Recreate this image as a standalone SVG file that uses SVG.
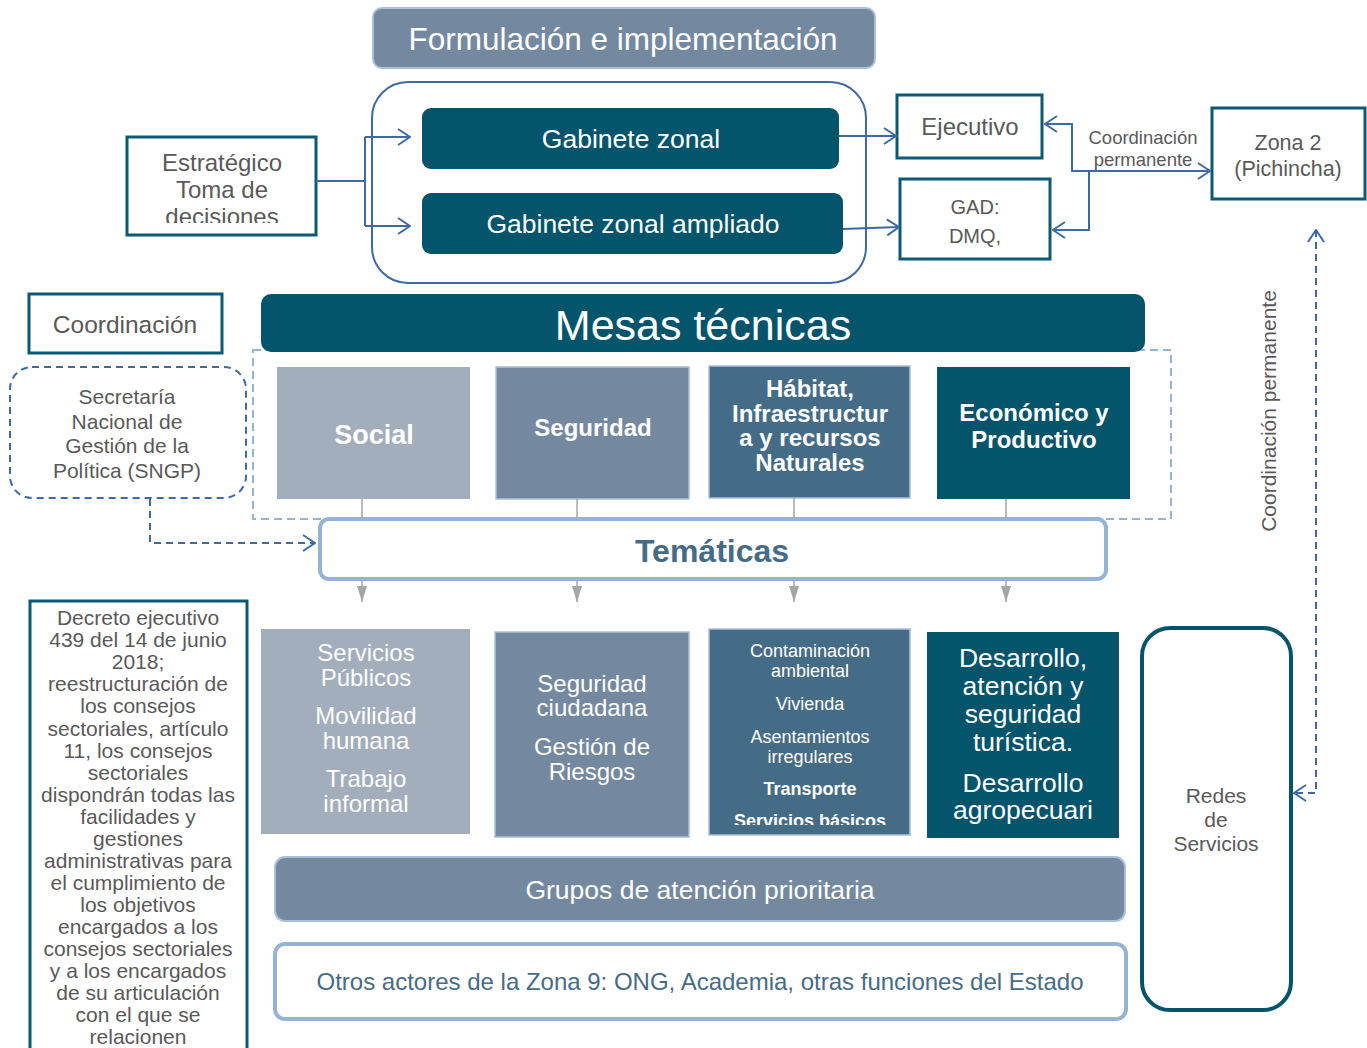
<svg xmlns="http://www.w3.org/2000/svg" width="1367" height="1048" viewBox="0 0 1367 1048">
<style>
text{font-family:"Liberation Sans",Arial,sans-serif;text-anchor:middle}
.g{fill:#595959}
.w{fill:#ffffff}
.n{font-family:"Liberation Sans Narrow","Liberation Sans",Arial,sans-serif;font-weight:bold}
.tealbox{fill:#ffffff;stroke:#0b5a74;stroke-width:3}
.conn{fill:none;stroke:#3e6aa4;stroke-width:2}
.dash{fill:none;stroke:#3e6aa4;stroke-width:2;stroke-dasharray:7,5}
.grey{stroke:#a6a6a6;stroke-width:1.5;fill:none}
</style>
<defs>
<marker id="chev" viewBox="0 0 14 18" refX="13" refY="9" markerWidth="14" markerHeight="18" markerUnits="userSpaceOnUse" orient="auto-start-reverse">
<path d="M1,1 L13,9 L1,17" fill="none" stroke="#3e6aa4" stroke-width="2"/>
</marker>
<marker id="tri" viewBox="0 0 10 16" refX="5" refY="16" markerWidth="10" markerHeight="16" markerUnits="userSpaceOnUse" orient="0">
<path d="M0,0 L10,0 L5,16 Z" fill="#a6a6a6"/>
</marker>
<clipPath id="clipE"><rect x="127" y="137" width="190" height="86"/></clipPath>
<clipPath id="clipH"><rect x="709" y="629" width="202" height="196"/></clipPath>
</defs>

<g id="formulacion">
<rect x="373" y="8" width="502" height="60" rx="9" fill="#74899f" stroke="#a9c0dd" stroke-width="2"/>
<text x="623" y="50" class="w" font-size="31.5">Formulación e implementación</text>
</g>

<g id="gabinetes-contenedor">
<rect x="372" y="82" width="494" height="201" rx="36" fill="none" stroke="#3e6aa4" stroke-width="2"/>
</g>
<g id="gabinete-zonal">
<rect x="422" y="108" width="417" height="61" rx="9" fill="#04546c"/>
<text x="631" y="148" class="w" font-size="26.5">Gabinete zonal</text>
</g>
<g id="gabinete-ampliado">
<rect x="422" y="193" width="421" height="61" rx="9" fill="#04546c"/>
<text x="633" y="233" class="w" font-size="26.5">Gabinete zonal ampliado</text>
</g>

<g id="estrategico">
<rect x="127" y="137" width="189" height="98" class="tealbox"/>
<g clip-path="url(#clipE)">
<text x="222" y="171" class="g" font-size="24">Estratégico</text>
<text x="222" y="198" class="g" font-size="24">Toma de</text>
<text x="222" y="225" class="g" font-size="24">decisiones</text>
</g>
</g>

<g id="ejecutivo">
<rect x="897" y="95" width="145" height="63" class="tealbox"/>
<text x="970" y="135" class="g" font-size="24">Ejecutivo</text>
</g>
<g id="gad">
<rect x="900" y="179" width="150" height="80" class="tealbox"/>
<text x="975" y="214" class="g" font-size="20">GAD:</text>
<text x="975" y="243" class="g" font-size="20">DMQ,</text>
</g>
<g id="zona2">
<rect x="1212" y="108" width="153" height="91" class="tealbox"/>
<text x="1288" y="150" class="g" font-size="21.5">Zona 2</text>
<text x="1288" y="176" class="g" font-size="21.5">(Pichincha)</text>
</g>

<g id="coordinacion">
<rect x="29" y="294" width="193" height="59" class="tealbox"/>
<text x="125" y="333" class="g" font-size="24.5">Coordinación</text>
</g>
<g id="sngp">
<rect x="10" y="367" width="236" height="131" rx="22" class="dash" stroke-width="1.5"/>
<text x="127" y="404" class="g" font-size="21">Secretaría</text>
<text x="127" y="429" class="g" font-size="21">Nacional de</text>
<text x="127" y="453" class="g" font-size="21">Gestión de la</text>
<text x="127" y="478" class="g" font-size="21">Política (SNGP)</text>
</g>

<g id="mesas-tecnicas">
<rect x="253" y="350" width="918" height="169" fill="none" stroke="#95b3d7" stroke-width="2" stroke-dasharray="8,5"/>
<rect x="261" y="294" width="884" height="58" rx="10" fill="#04546c"/>
<text x="703" y="340" class="w" font-size="43">Mesas técnicas</text>
</g>

<g id="mesa-social">
<rect x="277" y="367" width="193" height="132" fill="#a2aebb"/>
<text x="374" y="444" class="w n" font-size="27">Social</text>
</g>
<g id="mesa-seguridad">
<rect x="496" y="367" width="193" height="132" fill="#74899f" stroke="#a9c0dd" stroke-width="1.5"/>
<text x="593" y="436" class="w n" font-size="24">Seguridad</text>
</g>
<g id="mesa-habitat">
<rect x="709" y="366" width="201" height="132" fill="#456c87" stroke="#a9c0dd" stroke-width="1.5"/>
<text x="810" y="397" class="w n" font-size="24">Hábitat,</text>
<text x="810" y="422" class="w n" font-size="24">Infraestructur</text>
<text x="810" y="446" class="w n" font-size="24">a y recursos</text>
<text x="810" y="471" class="w n" font-size="24">Naturales</text>
</g>
<g id="mesa-economico">
<rect x="937" y="367" width="193" height="132" fill="#04546c"/>
<text x="1034" y="421" class="w n" font-size="24">Económico y</text>
<text x="1034" y="448" class="w n" font-size="24">Productivo</text>
</g>

<g id="tematicas">
<rect x="320" y="519" width="786" height="60" rx="9" fill="#ffffff" stroke="#95b3d7" stroke-width="4"/>
<text x="712" y="562" class="n" font-size="32" fill="#456c87">Temáticas</text>
</g>

<g id="decreto">
<rect x="30" y="601" width="217" height="470" class="tealbox"/>
<g class="g" font-size="21">
<text x="138" y="625">Decreto ejecutivo</text>
<text x="138" y="647">439  del 14 de junio</text>
<text x="138" y="669">2018;</text>
<text x="138" y="691">reestructuración de</text>
<text x="138" y="713">los consejos</text>
<text x="138" y="736">sectoriales, artículo</text>
<text x="138" y="758">11, los consejos</text>
<text x="138" y="780">sectoriales</text>
<text x="138" y="802">dispondrán todas las</text>
<text x="138" y="824">facilidades y</text>
<text x="138" y="846">gestiones</text>
<text x="138" y="868">administrativas para</text>
<text x="138" y="890">el cumplimiento  de</text>
<text x="138" y="912">los objetivos</text>
<text x="138" y="934">encargados  a los</text>
<text x="138" y="956">consejos sectoriales</text>
<text x="138" y="978">y a los encargados</text>
<text x="138" y="1000">de su articulación</text>
<text x="138" y="1022">con el que se</text>
<text x="138" y="1044">relacionen</text>
</g>
</g>

<g id="tema-social">
<rect x="261" y="629" width="209" height="205" fill="#a2aebb"/>
<g class="w" font-size="24">
<text x="366" y="661">Servicios</text>
<text x="366" y="686">Públicos</text>
<text x="366" y="724">Movilidad</text>
<text x="366" y="749">humana</text>
<text x="366" y="787">Trabajo</text>
<text x="366" y="812">informal</text>
</g>
</g>
<g id="tema-seguridad">
<rect x="495" y="632" width="194" height="205" fill="#74899f" stroke="#a9c0dd" stroke-width="1.5"/>
<g class="w" font-size="24">
<text x="592" y="692">Seguridad</text>
<text x="592" y="716">ciudadana</text>
<text x="592" y="755">Gestión de</text>
<text x="592" y="780">Riesgos</text>
</g>
</g>
<g id="tema-habitat">
<rect x="709" y="629" width="201" height="206" fill="#456c87" stroke="#a9c0dd" stroke-width="1.5"/>
<g class="w" font-size="18" clip-path="url(#clipH)">
<text x="810" y="657">Contaminación</text>
<text x="810" y="677">ambiental</text>
<text x="810" y="710">Vivienda</text>
<text x="810" y="743">Asentamientos</text>
<text x="810" y="763">irregulares</text>
<text x="810" y="795" font-weight="bold">Transporte</text>
<text x="810" y="827" font-weight="bold">Servicios básicos</text>
</g>
</g>
<g id="tema-economico">
<rect x="927" y="632" width="192" height="206" fill="#04546c"/>
<g class="w" font-size="26.5">
<text x="1023" y="667">Desarrollo,</text>
<text x="1023" y="695">atención y</text>
<text x="1023" y="723">seguridad</text>
<text x="1023" y="751">turística.</text>
<text x="1023" y="792">Desarrollo</text>
<text x="1023" y="819">agropecuari</text>
</g>
</g>

<g id="grupos">
<rect x="275" y="857" width="850" height="64" rx="10" fill="#74899f" stroke="#a9c0dd" stroke-width="2"/>
<text x="700" y="899" class="w" font-size="26.5">Grupos de atención prioritaria</text>
</g>
<g id="otros-actores">
<rect x="275" y="944" width="851" height="75" rx="10" fill="#ffffff" stroke="#95b3d7" stroke-width="4"/>
<text x="700" y="990" font-size="24" fill="#456c87">Otros actores de la Zona 9: ONG, Academia, otras funciones del Estado</text>
</g>

<g id="redes">
<rect x="1142" y="628" width="149" height="382" rx="28" fill="#ffffff" stroke="#04546c" stroke-width="4"/>
<text x="1216" y="803" class="g" font-size="21">Redes</text>
<text x="1216" y="827" class="g" font-size="21">de</text>
<text x="1216" y="851" class="g" font-size="21">Servicios</text>
</g>

<g id="connectors">
<path class="conn" d="M316,181 H365"/>
<path class="conn" d="M365,137 V226"/>
<path class="conn" d="M365,137 H410" marker-end="url(#chev)"/>
<path class="conn" d="M365,226 H410" marker-end="url(#chev)"/>
<path class="conn" d="M839,136 H896" marker-end="url(#chev)"/>
<path class="conn" d="M843,229 L899,227" marker-end="url(#chev)"/>
<path class="conn" d="M1045,124 H1072 V171 H1210" marker-start="url(#chev)" marker-end="url(#chev)"/>
<path class="conn" d="M1089,171 V230 H1053" marker-end="url(#chev)"/>
<path class="dash" d="M150,499 V543 H315" marker-end="url(#chev)"/>
<path class="dash" d="M1316,230 V793 H1294" marker-start="url(#chev)" marker-end="url(#chev)"/>
<path class="grey" d="M362,499 V518 M577,499 V518 M794,498 V518 M1006,499 V518"/>
<path class="grey" d="M362,581 V602" marker-end="url(#tri)"/>
<path class="grey" d="M577,581 V602" marker-end="url(#tri)"/>
<path class="grey" d="M794,581 V602" marker-end="url(#tri)"/>
<path class="grey" d="M1006,581 V602" marker-end="url(#tri)"/>
<text x="1143" y="144" class="g" font-size="18.5">Coordinación</text>
<text x="1143" y="166" class="g" font-size="18.5">permanente</text>
<text transform="translate(1276,411) rotate(-90)" class="g" font-size="21" font-family="Liberation Sans Narrow, Liberation Sans, sans-serif">Coordinación permanente</text>
</g>
</svg>
